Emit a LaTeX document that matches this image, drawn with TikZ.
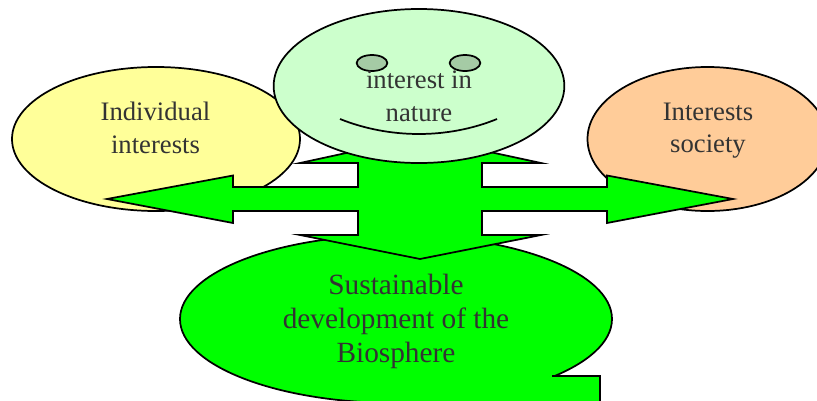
\documentclass[tikz,border=0pt]{standalone}
\usepackage{fontspec}
\setmainfont{Liberation Serif}
\usetikzlibrary{shapes.geometric}
\definecolor{pale}{HTML}{CCFFCC}
\definecolor{butter}{HTML}{FFFF99}
\definecolor{peach}{HTML}{FFCC99}
\definecolor{vivid}{HTML}{00FF00}
\definecolor{eyec}{HTML}{A5CBA5}
\definecolor{inkg}{HTML}{333333}
\tikzset{
  blob/.style={ellipse,draw=black,line width=1.3pt,inner sep=0pt,align=center,text=inkg},
  bigtext/.style={font=\fontsize{22pt}{25.5pt}\selectfont},
  midtext/.style={font=\fontsize{20pt}{24.5pt}\selectfont},
  outline/.style={draw=black,line width=1.3pt,line join=miter,miter limit=20}
}
\begin{document}
\begin{tikzpicture}[x=0.75pt,y=-0.75pt]
\useasboundingbox (0,0) rectangle (817,400);
\clip (0,0) rectangle (817,400);
\node[blob,fill=butter,minimum width=216pt,minimum height=108pt] (indiv) at (156,139) {};
\node[midtext,text=inkg,align=center] (indivt) at (155.5,128) {Individual\\interests};
\node[blob,fill=peach,minimum width=180pt,minimum height=108pt] (soc) at (707.5,139) {};
\node[midtext,text=inkg,align=center] (soct) at (708,130.5) {Interests\\society};
\node[blob,fill=vivid,minimum width=324pt,minimum height=126pt] (sust) at (396,319) {};
\fill[vivid] (552,376) -- (600,376) -- (600,404) -- (390,404) -- (390,396) -- cycle;
\draw[outline] (552,376) -- (600,376) -- (600,404);
\node[bigtext,text=inkg,align=center] (sustt) at (396,321.5) {Sustainable\\development of the\\Biosphere};
\path[outline,fill=vivid] (107,199) -- (233,175.5) -- (233,187) -- (358,187) -- (358,163) -- (300,163)
  -- (420,137) -- (541,163) -- (482,163) -- (482,187) -- (607,187) -- (607,175.5) -- (733,199)
  -- (607,223) -- (607,211) -- (482,211) -- (482,235) -- (541,235) -- (420,259) -- (300,235)
  -- (358,235) -- (358,211) -- (233,211) -- (233,223) -- cycle;
\node[blob,fill=pale,minimum width=218pt,minimum height=115.5pt] (face) at (419,86) {};
\node[blob,fill=eyec,minimum width=23pt,minimum height=12pt] (eyeL) at (372,63) {};
\node[blob,fill=eyec,minimum width=23pt,minimum height=12pt] (eyeR) at (465,63) {};
\draw[black,line width=1.3pt] (340,119) .. controls (390,139) and (448,139) .. (497,119);
\node[midtext,text=inkg,align=center] (facet) at (419,96) {interest in\\nature};
\end{tikzpicture}
\end{document}
